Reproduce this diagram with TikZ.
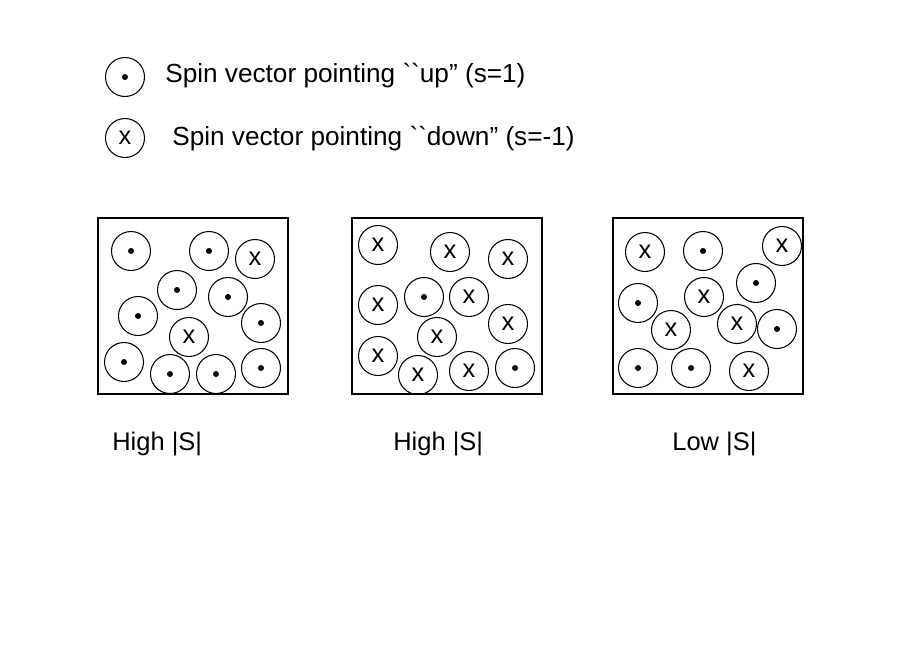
\documentclass[tikz,border=0pt]{standalone}
\usepackage{fontspec}
\setmainfont{Liberation Sans}
\usetikzlibrary{positioning}

\begin{document}
\begin{tikzpicture}[
        x=0.02cm, y=-0.02cm,
        spin/.style={draw, circle, line width=0.6pt, minimum size=0.78cm, inner sep=0pt},
        spinup/.style={spin, path picture={\fill (path picture bounding box.center) circle (0.06cm);}},
        spindown/.style={spin},
        box/.style={draw, line width=0.6pt, minimum width=3.8cm, minimum height=3.52cm, inner sep=0pt},
        key/.style={anchor=base west, inner sep=0pt, font=\fontsize{14.9}{17}\selectfont},
        lbl/.style={anchor=base west, inner sep=0pt},
        every node/.style={font=\fontsize{14.5}{17}\selectfont}
    ]
    \useasboundingbox (0,0) rectangle (913,646);

    % Legend
    \node[spinup]   (keyup)   at (125,77)  {};
    \node[key] (keyuptext) at (165,82)
        {Spin vector pointing \textasciigrave\textasciigrave up'' (s=1)};
    \node[spindown] (keydown) at (125,138) {x};
    \node[key] (keydowntext) at (172,145)
        {Spin vector pointing \textasciigrave\textasciigrave down'' (s=-1)};

    % Boxes
    \node[box] (boxA) at (193,306) {};
    \node[box] (boxB) at (447,306) {};
    \node[box] (boxC) at (708,306) {};

    % Box A: mostly up
    \foreach \n/\x/\y in {1/131/251, 2/209/251, 4/177/290, 5/228/297, 6/138/316,
                          7/261/323, 9/124/362, 10/170/374, 11/216/374, 12/261/368}
        \node[spinup] (a\n) at (\x,\y) {};
    \foreach \n/\x/\y in {3/255/259, 8/189/337}
        \node[spindown] (a\n) at (\x,\y) {x};

    % Box B: mostly down
    \foreach \n/\x/\y in {5/424/297, 12/515/368}
        \node[spinup] (b\n) at (\x,\y) {};
    \foreach \n/\x/\y in {1/378/245, 2/450/252, 3/508/259, 4/378/305, 6/469/297,
                          7/508/324, 8/437/337, 9/378/356, 10/418/375, 11/469/371}
        \node[spindown] (b\n) at (\x,\y) {x};

    % Box C: mixed
    \foreach \n/\x/\y in {2/703/251, 4/756/283, 5/638/303, 9/777/329, 10/638/368, 11/691/368}
        \node[spinup] (c\n) at (\x,\y) {};
    \foreach \n/\x/\y in {1/645/252, 3/782/246, 6/704/297, 7/671/330, 8/737/324, 12/749/371}
        \node[spindown] (c\n) at (\x,\y) {x};

    % Labels
    \node[lbl] (labA) at (112,450) {High |S|};
    \node[lbl] (labB) at (393,450) {High |S|};
    \node[lbl] (labC) at (672,450) {Low |S|};
\end{tikzpicture}
\end{document}
